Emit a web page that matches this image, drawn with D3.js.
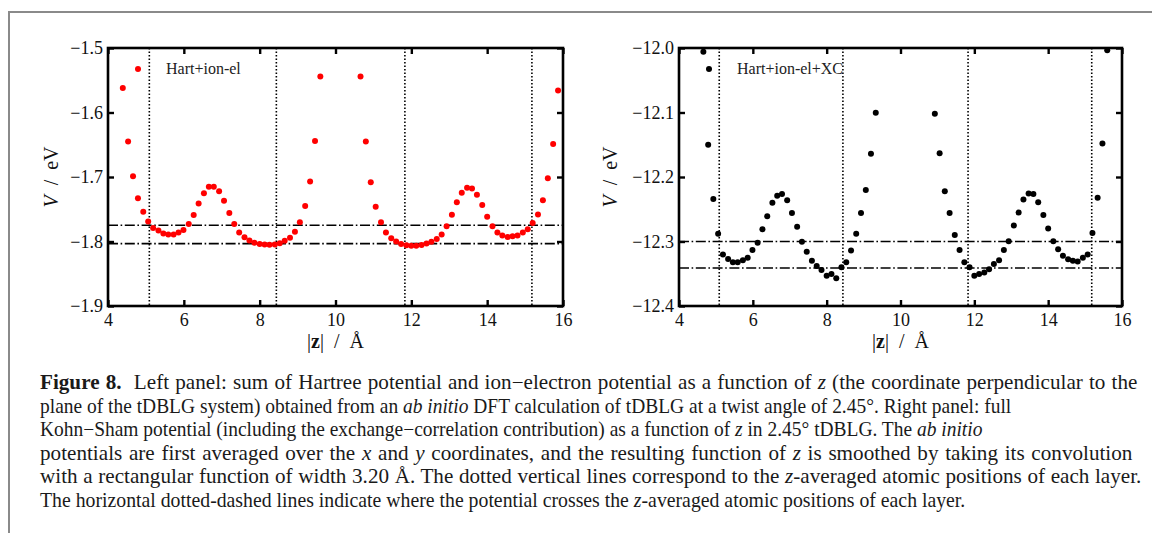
<!DOCTYPE html>
<html><head><meta charset="utf-8">
<script src="https://cdn.jsdelivr.net/npm/d3@7"></script>
<style>
body{margin:0;background:#fff}
svg{display:block}
text{font-family:"Liberation Serif","Times New Roman",serif}
</style>
</head><body>
<svg id="c" width="1152" height="533"></svg>
<script>
// ---------- data ----------
const zGrid = [4.39,4.53,4.66,4.79,4.93,5.06,5.19,5.33,5.46,5.59,5.73,5.86,5.99,6.13,6.26,6.39,6.53,6.66,6.79,6.93,
  7.06,7.20,7.33,7.46,7.60,7.73,7.86,8.00,8.13,8.26,8.40,8.53,8.66,8.80,8.93,9.06,9.20,9.33,9.46,9.60,
  9.73,9.86,10.00,10.13,10.26,10.40,10.53,
  10.66,10.80,10.93,11.06,11.20,11.33,11.47,11.60,11.73,11.87,12.00,12.13,12.27,12.40,12.53,12.67,12.80,12.93,13.07,13.20,
  13.33,13.47,13.60,13.73,13.87,14.00,14.14,14.27,14.40,14.54,14.67,14.80,14.94,15.07,15.20,15.34,15.47,15.60,15.74,15.87];

const vHart = [-1.562,-1.645,-1.699,-1.733,-1.754,-1.769,-1.779,-1.783,-1.7875,-1.789,
  -1.789,-1.786,-1.782,-1.773,-1.759,-1.741,-1.725,-1.715,-1.715,-1.722,
  -1.737,-1.756,-1.773,-1.786,-1.7935,-1.7985,-1.802,-1.804,-1.8045,-1.805,
  -1.8045,-1.8026,-1.799,-1.794,-1.785,-1.770,-1.745,-1.707,-1.644,-1.544,
  null,null,null,null,null,null,null,
  -1.544,-1.645,-1.708,-1.746,-1.770,-1.786,-1.795,-1.800,-1.804,
  -1.806,-1.8066,-1.8066,-1.8056,-1.803,-1.8005,-1.796,-1.789,-1.7765,-1.7587,
  -1.7393,-1.7245,-1.7168,-1.7179,-1.7276,-1.7434,-1.7617,-1.7765,-1.786,-1.7908,
  -1.793,-1.7918,-1.7908,-1.786,-1.781,-1.7714,-1.7582,-1.7362,-1.702,-1.649,-1.566];

const vFull = [null,null,-12.006,-12.150,-12.234,-12.288,-12.320,-12.327,-12.332,-12.332,
  -12.329,-12.325,-12.313,-12.302,-12.281,-12.261,-12.240,-12.229,-12.2265,-12.236,
  -12.256,-12.277,-12.3005,-12.316,-12.330,-12.338,-12.344,-12.353,-12.3505,-12.357,
  -12.340,-12.332,-12.314,-12.288,-12.256,-12.220,-12.164,-12.1005,-11.997,
  null,null,null,null,null,null,null,null,null,
  -11.997,-12.102,-12.163,-12.222,-12.256,-12.290,-12.313,-12.332,-12.340,-12.353,
  -12.3505,-12.348,-12.343,-12.335,-12.329,-12.313,-12.2995,-12.275,-12.255,-12.235,
  -12.2255,-12.2265,-12.239,-12.259,-12.280,-12.2995,-12.312,-12.322,-12.3275,-12.330,
  -12.331,-12.325,-12.320,-12.287,-12.232,-12.148,-12.0036,null,null];

const layerZ = [5.09, 8.44, 11.83, 15.18];
const crossHart = [-1.7748, -1.8033];
const crossFull = [-12.300, -12.341];
const xTicks = [4, 6, 8, 10, 12, 14, 16];
const yTicksHart = [-1.9, -1.8, -1.7, -1.6, -1.5];
const yTicksFull = [-12.4, -12.3, -12.2, -12.1, -12.0];
const seriesLabels = ["Hart+ion-el", "Hart+ion-el+XC"];

const captionLines = [
  [["Figure 8.","b"],["  Left panel: sum of Hartree potential and ion\u2212electron potential as a function of ",""],["z","i"],[" (the coordinate perpendicular to the",""]],
  [["plane of the tDBLG system) obtained from an ",""],["ab initio","i"],[" DFT calculation of tDBLG at a twist angle of 2.45\u00b0. Right panel: full",""]],
  [["Kohn\u2212Sham potential (including the exchange\u2212correlation contribution) as a function of ",""],["z","i"],[" in 2.45\u00b0 tDBLG. The ",""],["ab initio","i"]],
  [["potentials are first averaged over the ",""],["x","i"],[" and ",""],["y","i"],[" coordinates, and the resulting function of ",""],["z","i"],[" is smoothed by taking its convolution",""]],
  [["with a rectangular function of width 3.20 \u00c5. The dotted vertical lines correspond to the ",""],["z","i"],["-averaged atomic positions of each layer.",""]],
  [["The horizontal dotted-dashed lines indicate where the potential crosses the ",""],["z","i"],["-averaged atomic positions of each layer.",""]]
];
const captionWidths = [1098, 915, 830, 1093, 1102, 926];
const captionJustified = [true, false, false, true, true, false];

// ---------- drawing ----------
const svg = d3.select("#c");
svg.append("rect").attr("width",1152).attr("height",533).attr("fill","#fff");
svg.append("path").attr("d","M9,533 V12 H1152").attr("fill","none").attr("stroke","#8a8a8a").attr("stroke-width",2);

function panel(cfg, id) {
  const x = d3.scaleLinear().domain([4,16]).range([cfg.x0, cfg.x1]);
  const y = d3.scaleLinear().domain(cfg.yDomain).range([cfg.y1, cfg.y0]);
  const g = svg.append("g");
  g.append("clipPath").attr("id","clip"+id).append("rect")
    .attr("x",cfg.x0).attr("y",cfg.y0).attr("width",cfg.x1-cfg.x0).attr("height",cfg.y1-cfg.y0);
  const inner = g.append("g").attr("clip-path",`url(#clip${id})`);

  inner.selectAll("line.h").data(cfg.cross).join("line")
    .attr("x1",cfg.x0).attr("x2",cfg.x1).attr("y1",d=>y(d)).attr("y2",d=>y(d))
    .attr("stroke","#000").attr("stroke-width",1.6).attr("stroke-dasharray","10,2.6,1.6,2.6");
  inner.selectAll("line.v").data(layerZ).join("line")
    .attr("x1",d=>x(d)).attr("x2",d=>x(d)).attr("y1",cfg.y0).attr("y2",cfg.y1)
    .attr("stroke","#000").attr("stroke-width",1.6).attr("stroke-dasharray","1.6,1.9");
  const pts = zGrid.map((z,i)=>({z, v: cfg.values[i]})).filter(d=>d.v!==null);
  inner.selectAll("circle").data(pts).join("circle")
    .attr("cx",d=>x(d.z)).attr("cy",d=>y(d.v)).attr("r",3).attr("fill",cfg.color);

  g.append("circle").attr("cx",cfg.x0+30).attr("cy",cfg.y0+21).attr("r",3).attr("fill",cfg.color);
  g.append("text").attr("x",cfg.x0+58).attr("y",cfg.y0+26).attr("font-size",16).attr("fill","#222").text(cfg.label);

  g.append("rect").attr("x",cfg.x0).attr("y",cfg.y0).attr("width",cfg.x1-cfg.x0).attr("height",cfg.y1-cfg.y0)
    .attr("fill","none").attr("stroke","#000").attr("stroke-width",2.6);

  const style = sel => {
    sel.select(".domain").remove();
    sel.selectAll(".tick line").attr("stroke","#000").attr("stroke-width",2.4);
    sel.selectAll(".tick text").attr("font-size",18).attr("fill","#111")
      .style("font-family",'"Liberation Serif","Times New Roman",serif');
  };
  g.append("g").attr("transform",`translate(0,${cfg.y1})`)
    .call(d3.axisBottom(x).tickValues(xTicks).tickSize(-6).tickPadding(7).tickFormat(d3.format("d"))).call(style);
  g.append("g").attr("transform",`translate(0,${cfg.y0})`)
    .call(d3.axisTop(x).tickValues(xTicks).tickSize(-6).tickFormat("")).call(style);
  g.append("g").attr("transform",`translate(${cfg.x0},0)`)
    .call(d3.axisLeft(y).tickValues(cfg.yTicks).tickSize(-6).tickPadding(5).tickFormat(d3.format(".1f"))).call(style);
  g.append("g").attr("transform",`translate(${cfg.x1},0)`)
    .call(d3.axisRight(y).tickValues(cfg.yTicks).tickSize(-6).tickFormat("")).call(style);

  const xl = g.append("text").attr("x",(cfg.x0+cfg.x1)/2).attr("y",348).attr("text-anchor","middle")
    .attr("font-size",20).attr("fill","#111").style("white-space","pre");
  xl.append("tspan").text("|");
  xl.append("tspan").attr("font-weight","bold").text("z");
  xl.append("tspan").text("|  /  \u00c5");
  const yl = g.append("text").attr("transform",`translate(${cfg.ylx},${(cfg.y0+cfg.y1)/2}) rotate(-90)`)
    .attr("text-anchor","middle").attr("font-size",20).attr("fill","#111").style("white-space","pre");
  yl.append("tspan").attr("font-style","italic").text("V");
  yl.append("tspan").text("  /  eV");
}

panel({x0:108, x1:563, y0:48, y1:306, yDomain:[-1.9,-1.5], yTicks:yTicksHart, values:vHart,
       color:"#ff0000", cross:crossHart, label:seriesLabels[0], ylx:58}, 0);
panel({x0:679, x1:1122, y0:48, y1:306, yDomain:[-12.4,-12.0], yTicks:yTicksFull, values:vFull,
       color:"#000000", cross:crossFull, label:seriesLabels[1], ylx:617}, 1);

// caption
const capY = [389, 413, 436, 460, 483, 507];
const capNodes = captionLines.map((segs, i) => {
  const t = svg.append("text").attr("font-size",20).attr("fill","#1a1a1a").style("white-space","pre");
  segs.forEach(([s, f]) => {
    const ts = t.append("tspan").text(s);
    if (f === "b") ts.attr("font-weight","bold");
    if (f === "i") ts.attr("font-style","italic");
  });
  return t;
});
const natW = capNodes.map(t => t.node().getComputedTextLength());
// base squeeze from the justified lines (leaving a little room for interword stretch)
const sBase = d3.mean([0, 3, 4], i => (captionWidths[i] - 18) / natW[i]);
capNodes.forEach((t, i) => {
  const w = natW[i];
  const s = captionJustified[i] ? sBase : Math.max(captionWidths[i] / w, sBase * 0.92);
  t.attr("transform", `translate(40,${capY[i]}) scale(${s},1)`);
  if (captionJustified[i]) {
    const nSp = captionLines[i].map(d => d[0]).join("").split(" ").length - 1;
    t.style("word-spacing", ((captionWidths[i] / s - w) / nSp) + "px");
  }
});
</script>
</body></html>
